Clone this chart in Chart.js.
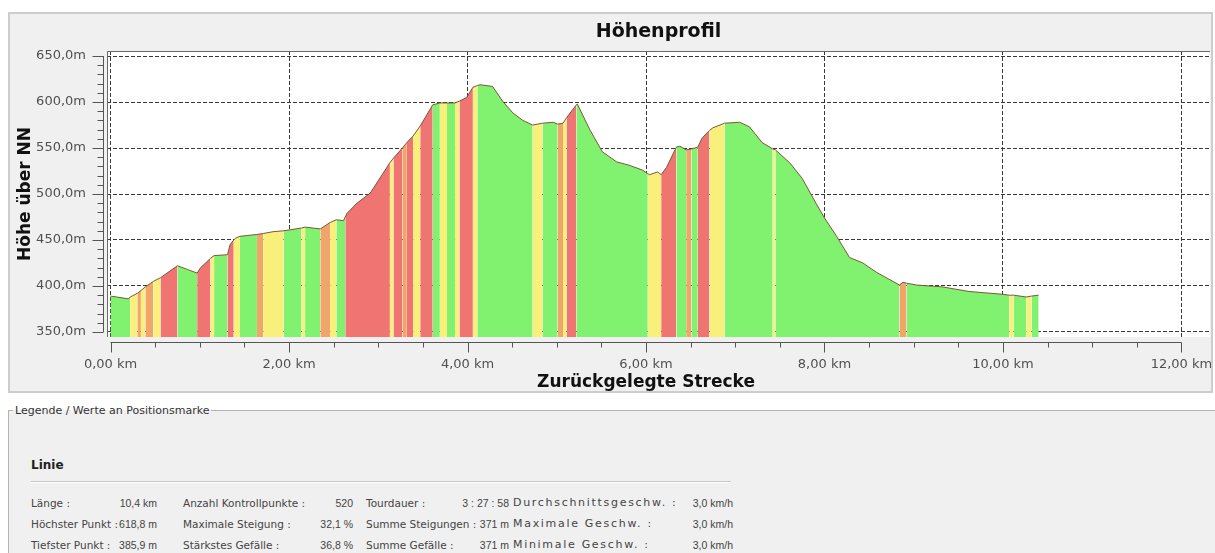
<!DOCTYPE html>
<html>
<head>
<meta charset="utf-8">
<script src="https://cdn.jsdelivr.net/npm/chart.js"></script>
<style>
  body { margin: 0; background: #fff; width: 1215px; height: 553px; overflow: hidden; position: relative; font-family: "DejaVu Sans", sans-serif; }
  #panel { position: absolute; left: 8px; top: 12px; width: 1205px; height: 381px; box-sizing: border-box; border: 2px solid #cdcdcd; background: #f0f0f0; }
  #panel canvas { display: block; }
  #group { position: absolute; left: 8px; top: 410px; width: 1230px; height: 170px; border-top: 1px solid #b4b4b4; border-left: 1px solid #b4b4b4; background: #f0f0f0; }
  #gtitle { position: absolute; left: 4px; top: -7px; font-size: 11px; line-height: 13px; color: #333; padding: 0 2px; background: linear-gradient(#fff 50%, #f0f0f0 50%); }
  #linie { position: absolute; left: 22px; top: 47px; font-size: 12px; font-weight: bold; color: #222; }
  #sep { position: absolute; left: 22px; top: 70px; width: 700px; height: 0; border-top: 1px solid #c6c6c6; border-bottom: 1px solid #fff; }
  .lbl, .val { position: absolute; font-size: 10.5px; line-height: 12px; color: #444; white-space: nowrap; }
  .val { width: 120px; text-align: right; font-family: "Liberation Sans", sans-serif; }
  .wide { font-size: 11px; letter-spacing: 1.7px; }
</style>
</head>
<body>
<div id="panel"><canvas id="profile" width="1201" height="377"></canvas></div>
<div id="group">
  <div id="gtitle">Legende / Werte an Positionsmarke</div>
  <div id="linie">Linie</div>
  <div id="sep"></div>
</div>
<script>
// Höhenprofil: distance (km), height (m) and gradient class of the stretch starting at each point
const distKm = [0.00, 0.20, 0.22, 0.30, 0.34, 0.39, 0.45, 0.48, 0.56, 0.75, 0.86, 0.97, 1.01, 1.12, 1.16, 1.31, 1.34, 1.38, 1.40, 1.45,
  1.64, 1.71, 1.82, 1.94, 2.14, 2.18, 2.35, 2.46, 2.53, 2.61, 2.63, 2.65, 2.76, 2.91, 3.05, 3.13, 3.17, 3.27, 3.32, 3.39,
  3.47, 3.61, 3.69, 3.77, 3.86, 3.91, 3.99, 4.06, 4.11, 4.14, 4.28, 4.40, 4.51, 4.62, 4.73, 4.84, 4.96, 5.01, 5.07, 5.11,
  5.22, 5.23, 5.37, 5.51, 5.67, 5.82, 5.96, 6.02, 6.04, 6.13, 6.17, 6.23, 6.34, 6.38, 6.45, 6.51, 6.58, 6.63, 6.71, 6.75,
  6.88, 7.05, 7.16, 7.30, 7.42, 7.45, 7.61, 7.75, 7.91, 8.00, 8.13, 8.28, 8.43, 8.58, 8.84, 8.88, 8.92, 9.03, 9.32, 9.62,
  9.99, 10.07, 10.12, 10.26, 10.32, 10.40];
const elevM = [389, 386, 388, 392, 395, 399, 403, 405, 409, 422, 418, 414, 420, 430, 433, 434, 445, 450, 452, 454,
  456, 457, 459, 460, 463, 464, 462, 469, 472, 471, 475, 479, 490, 501, 522, 534, 539, 550, 556, 563,
  574, 597, 599, 599, 599, 601, 605, 616, 618, 618.8, 617, 600, 588, 580, 575, 577, 578, 576, 577, 583,
  597, 598, 570, 546, 535, 531, 526, 522, 521, 524, 521, 529, 551, 552, 548, 549, 551, 561, 569, 572,
  577, 578, 573, 556, 549, 548, 534, 517, 489, 474, 455, 431, 425, 415, 401, 404, 403, 401, 399, 394,
  391, 390, 390, 388, 389, 390];
const grade = ['G', 'G', 'Y', 'O', 'Y', 'O', 'O', 'Y', 'R', 'G', 'G', 'R', 'R', 'Y', 'G', 'R', 'R', 'Y', 'Y', 'G',
  'O', 'Y', 'Y', 'G', 'Y', 'G', 'O', 'Y', 'G', 'G', 'R', 'R', 'R', 'R', 'R', 'Y', 'R', 'O', 'R', 'Y',
  'R', 'G', 'Y', 'G', 'Y', 'R', 'R', 'Y', 'G', 'G', 'G', 'G', 'G', 'G', 'Y', 'G', 'G', 'O', 'Y', 'R',
  'G', 'G', 'G', 'G', 'G', 'G', 'G', 'Y', 'Y', 'Y', 'R', 'R', 'G', 'G', 'O', 'G', 'R', 'R', 'Y', 'Y',
  'G', 'G', 'G', 'G', 'Y', 'G', 'G', 'G', 'G', 'G', 'G', 'G', 'G', 'G', 'O', 'O', 'G', 'G', 'G', 'G',
  'G', 'Y', 'G', 'Y', 'G', 'G'];

const xTickValues = [0, 2, 4, 6, 8, 10, 12];
const yTickValues = [350, 400, 450, 500, 550, 600, 650];

const statsRows = [
  [['Länge :', '10,4 km'], ['Anzahl Kontrollpunkte :', '520'], ['Tourdauer :', '3 : 27 : 58'], ['Durchschnittsgeschw. :', '3,0 km/h']],
  [['Höchster Punkt :', '618,8 m'], ['Maximale Steigung :', '32,1 %'], ['Summe Steigungen :', '371 m'], ['Maximale Geschw. :', '3,0 km/h']],
  [['Tiefster Punkt :', '385,9 m'], ['Stärkstes Gefälle :', '36,8 %'], ['Summe Gefälle :', '371 m'], ['Minimale Geschw. :', '3,0 km/h']]
];

const gradeColors = { G: 'rgb(128,242,112)', Y: 'rgb(248,240,122)', O: 'rgb(240,166,106)', R: 'rgb(240,116,114)' };
const fontFamily = '"DejaVu Sans", sans-serif';

// white plot area on the grey panel
const plotBackground = {
  id: 'plotBackground',
  beforeDraw(chart) {
    const { ctx, chartArea: a } = chart;
    ctx.save();
    ctx.fillStyle = '#fff';
    ctx.fillRect(a.left, a.top, a.right - a.left, a.bottom - a.top);
    ctx.restore();
  }
};

// axis lines with major/minor ticks set off from the plot, plus axis titles
const axisDecor = {
  id: 'axisDecor',
  afterDraw(chart) {
    const { ctx, chartArea: a, scales: { x, y } } = chart;
    ctx.save();
    ctx.strokeStyle = '#6a6a6a';
    ctx.lineWidth = 1;
    ctx.beginPath();
    ctx.moveTo(Math.round(a.left) + 0.5, a.bottom);
    ctx.lineTo(Math.round(a.left) + 0.5, Math.round(a.top) + 0.5);
    ctx.lineTo(a.right, Math.round(a.top) + 0.5);
    ctx.stroke();

    ctx.strokeStyle = '#555';
    ctx.beginPath();
    const ax = Math.round(a.left - 4) + 0.5;
    const yFirst = yTickValues[0], yLast = yTickValues[yTickValues.length - 1];
    ctx.moveTo(ax, y.getPixelForValue(yLast));
    ctx.lineTo(ax, y.getPixelForValue(yFirst));
    for (let i = 0; i <= (yLast - yFirst) / 10; i++) {
      const v = yFirst + i * 10;
      const py = Math.round(y.getPixelForValue(v)) + 0.5;
      const len = v % 50 === 0 ? 11 : 6;
      ctx.moveTo(ax, py);
      ctx.lineTo(ax - len, py);
    }
    const ay = Math.round(a.bottom + 5) + 0.5;
    const xFirst = xTickValues[0], xLast = xTickValues[xTickValues.length - 1];
    ctx.moveTo(x.getPixelForValue(xFirst), ay);
    ctx.lineTo(x.getPixelForValue(xLast), ay);
    for (let i = 0; i <= (xLast - xFirst) * 2; i++) {
      const v = xFirst + i * 0.5;
      const px = Math.round(x.getPixelForValue(v)) + 0.5;
      const len = i % 4 === 0 ? 10 : 5;
      ctx.moveTo(px, ay);
      ctx.lineTo(px, ay + len);
    }
    ctx.stroke();

    ctx.fillStyle = '#111';
    ctx.font = 'bold 17px ' + fontFamily;
    ctx.textAlign = 'center';
    ctx.textBaseline = 'middle';
    ctx.fillText('Zurückgelegte Strecke', (x.getPixelForValue(xFirst) + x.getPixelForValue(xLast)) / 2, 369);
    ctx.translate(16, (y.getPixelForValue(yFirst) + y.getPixelForValue(yLast)) / 2);
    ctx.rotate(-Math.PI / 2);
    ctx.fillText('Höhe über NN', 0, 0);
    ctx.restore();
  }
};

const ctx = document.getElementById('profile').getContext('2d');
const profileChart = new Chart(ctx, {
  type: 'line',
  data: {
    datasets: [{
      data: distKm.map((d, i) => ({ x: d, y: elevM[i] })),
      fill: 'start',
      borderColor: '#7a5838',
      borderWidth: 1,
      backgroundColor: gradeColors.G,
      pointRadius: 0,
      tension: 0,
      segment: {
        backgroundColor: c => gradeColors[grade[c.p0DataIndex]]
      }
    }]
  },
  options: {
    responsive: false,
    animation: false,
    layout: { padding: { left: 0, right: 1, top: 0, bottom: 0 } },
    plugins: {
      legend: { display: false },
      tooltip: { enabled: false },
      title: {
        display: true,
        text: 'Höhenprofil',
        fullSize: false,
        color: '#111',
        font: { family: fontFamily, size: 19, weight: 'bold' },
        padding: { top: 6.5, bottom: 7.7 }
      }
    },
    scales: {
      x: {
        type: 'linear',
        min: -0.04,
        max: 12.32,
        z: 1,
        afterFit: s => { s.height = 54; s.paddingLeft = 0; s.paddingRight = 0; },
        afterBuildTicks: s => { s.ticks = xTickValues.map(v => ({ value: v })); },
        grid: { color: '#383838', lineWidth: 1, drawTicks: false },
        border: { display: false, dash: [4, 2] },
        ticks: {
          color: '#505050',
          font: { family: fontFamily, size: 13 },
          padding: 20,
          maxRotation: 0,
          autoSkip: false,
          callback: v => v.toFixed(2).replace('.', ',') + ' km'
        }
      },
      y: {
        min: 344.5,
        max: 655.5,
        z: 1,
        afterFit: s => { s.width = 97; s.paddingTop = 0; s.paddingBottom = 0; },
        afterBuildTicks: s => { s.ticks = yTickValues.map(v => ({ value: v })); },
        grid: { color: '#383838', lineWidth: 1, drawTicks: false },
        border: { display: false, dash: [4, 2] },
        ticks: {
          color: '#505050',
          font: { family: fontFamily, size: 13 },
          padding: 21,
          callback: v => v.toFixed(1).replace('.', ',') + 'm'
        }
      }
    }
  },
  plugins: [plotBackground, axisDecor]
});

// Kennwerte unter dem Diagramm
const group = document.getElementById('group');
const labelLeft = [22, 174, 357, 504];
const valueRight = [148, 344, 500, 724];
statsRows.forEach((row, r) => {
  row.forEach(([label, value], c) => {
    const l = document.createElement('div');
    l.className = c === 3 ? 'lbl wide' : 'lbl';
    l.textContent = label;
    l.style.left = labelLeft[c] + 'px';
    l.style.top = (86 + r * 21) + 'px';
    group.appendChild(l);
    const v = document.createElement('div');
    v.className = 'val';
    v.textContent = value;
    v.style.left = (valueRight[c] - 120) + 'px';
    v.style.top = (86 + r * 21) + 'px';
    group.appendChild(v);
  });
});
</script>
</body>
</html>
